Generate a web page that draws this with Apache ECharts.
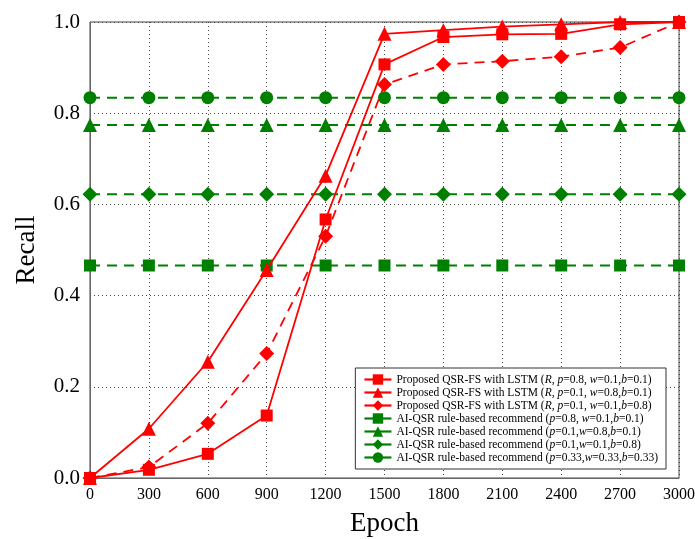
<!DOCTYPE html>
<html><head><meta charset="utf-8">
<script src="https://cdn.jsdelivr.net/npm/echarts@6/dist/echarts.min.js"></script>
<style>html,body{margin:0;padding:0;background:#fff}#c{width:695px;height:539px}</style>
</head><body><div id="c"></div>
<script>
const epochs = [0,300,600,900,1200,1500,1800,2100,2400,2700,3000];
const yTicks = [0.0,0.2,0.4,0.6,0.8,1.0];
const lstmSquare = [0,0.018,0.053,0.137,0.567,0.907,0.967,0.973,0.974,0.995,1.0];
const lstmTriangle = [0,0.108,0.255,0.456,0.663,0.974,0.982,0.99,0.995,1.0,1.0];
const lstmDiamond = [0,0.024,0.12,0.273,0.53,0.863,0.907,0.914,0.924,0.944,1.0];
const ruleSquare = 0.466;
const ruleTriangle = 0.774;
const ruleDiamond = 0.622;
const ruleCircle = 0.834;
const names = [
 'Proposed QSR-FS with LSTM ({i|R}, {i|p}=0.8, {i|w}=0.1,{i|b}=0.1)',
 'Proposed QSR-FS with LSTM ({i|R}, {i|p}=0.1, {i|w}=0.8,{i|b}=0.1)',
 'Proposed QSR-FS with LSTM ({i|R}, {i|p}=0.1, {i|w}=0.1,{i|b}=0.8)',
 'AI-QSR rule-based recommend ({i|p}=0.8, {i|w}=0.1,{i|b}=0.1)',
 'AI-QSR rule-based recommend ({i|p}=0.1,{i|w}=0.8,{i|b}=0.1)',
 'AI-QSR rule-based recommend ({i|p}=0.1,{i|w}=0.1,{i|b}=0.8)',
 'AI-QSR rule-based recommend ({i|p}=0.33,{i|w}=0.33,{i|b}=0.33)'
];
const F = 'Liberation Serif';
const red = '#ff0000', green = '#008000';
function pairs(vals){ return epochs.map((e,i)=>[e, vals[i]]); }
function flat(v){ return epochs.map(e=>[e, v]); }
function ser(i, data, color, symbol, size, type){
  return {name:'s'+i, type:'line', data:data, symbol:symbol, symbolSize:size,
    lineStyle:{color:color, width:color===red?1.8:2, type:type==='dash'?[10,7]:'solid'},
    itemStyle:{color:color}, z: color===red?5:3, animation:false};
}
const chart = echarts.init(document.getElementById('c'));
chart.setOption({
  animation:false,
  grid:{left:90, right:16, top:22, bottom:61, show:true, borderColor:'#444', borderWidth:1, outerBoundsMode:'none', containLabel:false},
  xAxis:{type:'value', min:0, max:3000, interval:300, name:'Epoch', nameLocation:'middle', nameGap:32,
    nameTextStyle:{fontFamily:F, fontSize:27, color:'#000'},
    axisLine:{lineStyle:{color:'#666'}}, axisTick:{show:false},
    axisLabel:{fontFamily:F, fontSize:16, color:'#000', margin:9, formatter:v=>String(v)},
    splitLine:{show:true, lineStyle:{color:'#444', type:[1,3], width:1}}},
  yAxis:{type:'value', min:0, max:1, interval:0.2, name:'Recall', nameLocation:'middle', nameGap:50,
    nameTextStyle:{fontFamily:F, fontSize:27, color:'#000'},
    axisLine:{lineStyle:{color:'#666'}}, axisTick:{show:false},
    axisLabel:{fontFamily:F, fontSize:21, color:'#000', margin:10, formatter:v=>v.toFixed(1)},
    splitLine:{show:true, lineStyle:{color:'#444', type:[1,3], width:1}}},
  legend:{orient:'vertical', right:29, bottom:70, backgroundColor:'#fff', borderColor:'#333', borderWidth:1,
    padding:[5,8,5,8], itemGap:0, itemWidth:27, itemHeight:13,
    lineStyle:{width:2.2, type:'solid'},
    textStyle:{fontFamily:F, fontSize:11.5, lineHeight:13, color:'#000', rich:{i:{fontFamily:F, fontSize:11.5, lineHeight:13, fontStyle:'italic', color:'#000'}}},
    formatter:n=>names[+n.slice(1)],
    data:['s0','s1','s2','s3','s4','s5','s6']},
  series:[
    ser(0, pairs(lstmSquare), red, 'rect', 12, 'solid'),
    ser(1, pairs(lstmTriangle), red, 'triangle', 14, 'solid'),
    ser(2, pairs(lstmDiamond), red, 'diamond', 15, 'dash'),
    ser(3, flat(ruleSquare), green, 'rect', 12, 'dash'),
    ser(4, flat(ruleTriangle), green, 'triangle', 14, 'dash'),
    ser(5, flat(ruleDiamond), green, 'diamond', 15, 'dash'),
    ser(6, flat(ruleCircle), green, 'circle', 13, 'dash')
  ]
});
</script></body></html>
